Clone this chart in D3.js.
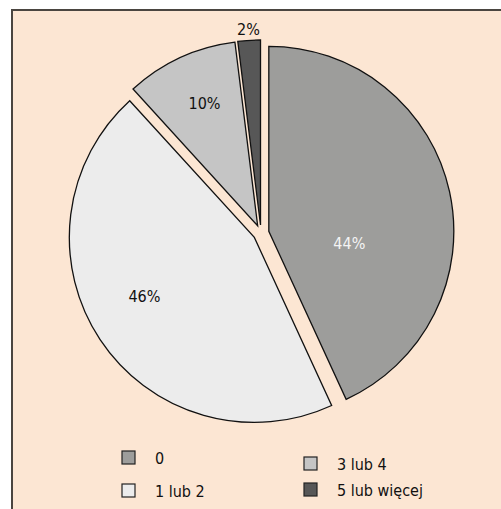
<!DOCTYPE html>
<html>
<head>
<meta charset="utf-8">
<script src="https://cdn.jsdelivr.net/npm/d3@7"></script>
<style>
  body { margin: 0; background: #fff; }
  text { font-family: "Liberation Sans Narrow", "DejaVu Sans Condensed", "Liberation Sans", sans-serif; }
</style>
</head>
<body>
<div id="chart"></div>
<script>
// data
const categories = ["0", "1 lub 2", "3 lub 4", "5 lub więcej"];
const values = [44, 46, 10, 2];
const sliceColors = ["#9d9d9b", "#ececec", "#c5c5c5", "#575757"];
const labelColors = ["#f4f4f4", "#111", "#111", "#111"];

const W = 501, H = 509;
const cx = 261, cy = 233, r = 185, explode = 8;

const svg = d3.select("#chart").append("svg")
    .attr("width", W)
    .attr("height", H);

// frame
svg.append("rect")
    .attr("x", 12).attr("y", 10)
    .attr("width", W - 12 + 2).attr("height", H - 10 + 2)
    .attr("fill", "#fce6d3")
    .attr("stroke", "#4a4540")
    .attr("stroke-width", 2);

const pie = d3.pie().sort(null).value(d => d);
const arcs = pie(values);

const arc = d3.arc().innerRadius(0).outerRadius(r);

const g = svg.append("g")
    .attr("transform", "translate(" + cx + "," + cy + ")");

function offset(d) {
    let a = (d.startAngle + d.endAngle) / 2;
    return [Math.sin(a) * explode, -Math.cos(a) * explode];
}

g.selectAll("path")
    .data(arcs)
    .enter().append("path")
    .attr("d", arc)
    .attr("transform", d => "translate(" + offset(d) + ")")
    .attr("fill", (d, i) => sliceColors[i])
    .attr("stroke", "#111")
    .attr("stroke-width", 1.3)
    .attr("stroke-linejoin", "miter");

// labels: small slices go outside
const labelArc = d3.arc().innerRadius(r * 0.7).outerRadius(r * 0.7);
const outArc = d3.arc().innerRadius(r + 11).outerRadius(r + 11);
const nudge = {"0": [-46, 40], "1 lub 2": [-2, -12], "3 lub 4": [1, -5]};

g.selectAll(".lbl")
    .data(arcs)
    .enter().append("text")
    .attr("class", "lbl")
    .attr("transform", (d, i) => {
        let p = d.value < 5 ? outArc.centroid(d) : labelArc.centroid(d);
        let o = offset(d);
        let n = nudge[categories[i]] || [0, 0];
        return "translate(" + (p[0] + o[0] + n[0]) + "," + (p[1] + o[1] + n[1]) + ")";
    })
    .attr("text-anchor", "middle")
    .attr("dominant-baseline", "central")
    .attr("font-size", 16)
    .attr("fill", (d, i) => labelColors[i])
    .text(d => d.value + "%");

// legend
const legendPos = [[122, 451], [122, 484], [304, 457], [304, 483]];
const legend = svg.append("g");
const items = legend.selectAll("g")
    .data(categories)
    .enter().append("g")
    .attr("transform", (d, i) => "translate(" + legendPos[i] + ")");

items.append("rect")
    .attr("width", 13).attr("height", 13)
    .attr("fill", (d, i) => sliceColors[i])
    .attr("stroke", "#222")
    .attr("stroke-width", 1.2);

items.append("text")
    .attr("x", 33)
    .attr("y", 7)
    .attr("dominant-baseline", "central")
    .attr("font-size", 16)
    .attr("fill", "#111")
    .text(d => d);
</script>
</body>
</html>
